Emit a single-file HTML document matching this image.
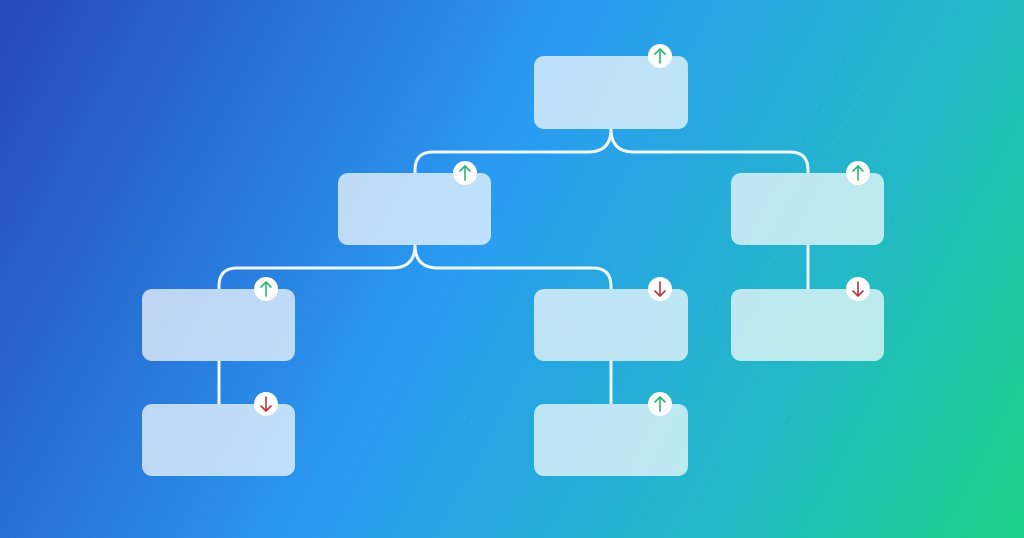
<!DOCTYPE html>
<html><head><meta charset="utf-8"><style>html,body{margin:0;padding:0;width:1024px;height:538px;overflow:hidden}</style></head>
<body>
<svg width="1024" height="538" viewBox="0 0 1024 538" xmlns="http://www.w3.org/2000/svg">
<defs>
<linearGradient id="bg" gradientUnits="userSpaceOnUse" x1="0" y1="0" x2="1024" y2="538">
<stop offset="0" stop-color="#2748b6"/>
<stop offset="0.45" stop-color="#2a9bf2"/>
<stop offset="0.75" stop-color="#23b8c8"/>
<stop offset="1" stop-color="#1cd488"/>
</linearGradient>
<g id="up"><circle r="12" fill="#fff"/><path d="M0 7V-7M-5 -2L0 -7L5 -2" stroke="#2ab673" stroke-width="1.6" fill="none" stroke-linecap="round"/></g>
<g id="dn"><circle r="12" fill="#fff"/><path d="M0 -7V7M-5 2L0 7L5 2" stroke="#b8363a" stroke-width="1.6" fill="none" stroke-linecap="round"/></g>
</defs>
<rect width="1024" height="538" fill="url(#bg)"/>
<g stroke="#fff" stroke-width="3" fill="none" opacity="0.92">
<path d="M611 129 Q611 152 588 152 H433 Q415 152 415 170 V173"/>
<path d="M611 129 Q611 152 634 152 H790 Q808 152 808 170 V173"/>
<path d="M415 245 Q415 268 392 268 H237 Q219 268 219 286 V289"/>
<path d="M415 245 Q415 268 438 268 H593 Q611 268 611 286 V289"/>
<path d="M808 245 V289"/>
<path d="M219 361 V404"/>
<path d="M611 361 V404"/>
</g>
<g fill="#fff" fill-opacity="0.7">
<rect x="534" y="56" width="154" height="73" rx="10"/>
<rect x="338" y="173" width="153" height="72" rx="10"/>
<rect x="731" y="173" width="153" height="72" rx="10"/>
<rect x="142" y="289" width="153" height="72" rx="10"/>
<rect x="534" y="289" width="154" height="72" rx="10"/>
<rect x="731" y="289" width="153" height="72" rx="10"/>
<rect x="142" y="404" width="153" height="72" rx="10"/>
<rect x="534" y="404" width="154" height="72" rx="10"/>
</g>
<use href="#up" x="660" y="56"/>
<use href="#up" x="465" y="173"/>
<use href="#up" x="858" y="173"/>
<use href="#up" x="266" y="289"/>
<use href="#dn" x="660" y="289"/>
<use href="#dn" x="858" y="289"/>
<use href="#dn" x="266" y="404"/>
<use href="#up" x="660" y="404"/>
</svg>
</body></html>
